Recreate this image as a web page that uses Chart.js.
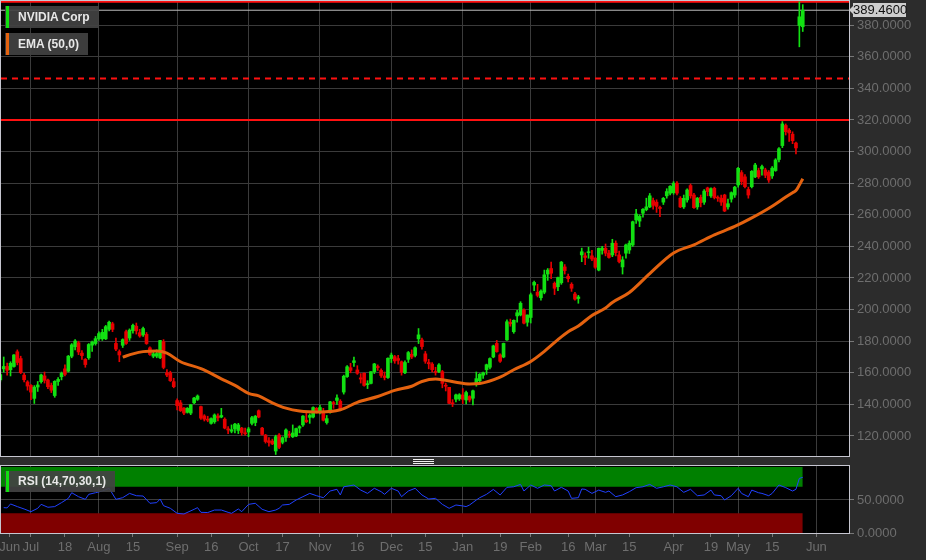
<!DOCTYPE html>
<html>
<head>
<meta charset="utf-8">
<script src="https://cdn.jsdelivr.net/npm/chart.js@4.4.1/dist/chart.umd.min.js"></script>
<style>
  body { margin: 0; background: #2c2c2c; width: 926px; height: 560px; overflow: hidden; position: relative;
         font-family: Arial, "Liberation Sans", sans-serif; }
  canvas { position: absolute; left: 0; }
  #main { top: 0; }
  #rsi { top: 465px; }
  .tag { position: absolute; left: 5px; height: 22px; line-height: 22px; background: rgba(66,66,66,0.92);
         color: #e8e8e8; font-size: 12px; font-weight: bold; padding: 0 9px 0 13px; white-space: nowrap; }
  .tag i { position: absolute; left: 1px; top: 0; width: 3px; height: 100%; }
  #last { position: absolute; left: 853px; width: 53px; height: 14px; line-height: 14px; background: #cdcdcd;
          color: #111; font-size: 13px; text-align: center; }
  #last:before { content: ""; position: absolute; left: -4px; top: 3px; border-style: solid;
                 border-width: 4px 4px 4px 0; border-color: transparent #cdcdcd transparent transparent; }
  #grip { position: absolute; left: 413px; top: 459px; width: 21px; height: 6px;
          background: repeating-linear-gradient(#f0f0f0 0 1px, transparent 1px 2px); }
</style>
</head>
<body>
<canvas id="main" width="926" height="457"></canvas>
<canvas id="rsi" width="926" height="95"></canvas>
<div class="tag" style="top:6px"><i style="background:#10e010"></i>NVIDIA Corp</div>
<div class="tag" style="top:33px"><i style="background:#e4620f"></i>EMA (50,0)</div>
<div class="tag" style="top:471px;height:21px;line-height:21px"><i style="background:#10e010"></i>RSI (14,70,30,1)</div>
<div id="last"></div>
<div id="grip"></div>
<script>
// daily candles, 2022-06-17 .. 2023-05-26, one line per month
const opens = [
  155.5,162.5,164.0,166.0,164.0,173.3,169.0,158.5,154.2,
  152.0,143.8,151.0,154.4,158.0,155.4,152.0,145.6,154.5,157.5,162.5,161.0,170.5,176.5,179.0,172.5,168.5,169.5,177.5,178.5,
  181.5,181.5,181.5,187.5,191.0,178.6,173.4,177.4,186.0,182.0,186.7,189.5,185.4,184.0,184.3,175.8,170.5,170.5,169.5,179.7,160.0,160.0,154.4,
  142.4,141.0,137.7,135.0,134.5,141.0,143.2,138.6,132.7,130.5,128.0,129.0,132.5,133.0,130.6,124.5,123.0,127.5,123.5,125.0,121.5,
  122.5,128.0,128.5,136.0,125.0,120.6,117.0,116.8,110.5,120.6,116.0,119.1,121.0,119.5,120.0,125.0,127.0,130.0,131.8,132.0,137.5,
  138.0,134.5,128.5,135.5,140.5,142.5,142.0,147.8,157.6,161.5,166.5,161.8,156.0,159.7,152.5,153.3,160.7,164.0,161.5,158.0,157.0,
  169.0,167.5,169.0,167.0,160.0,168.5,170.0,171.0,184.0,180.8,172.0,166.5,165.5,160.5,160.8,160.7,151.5,150.8,140.5,143.3,143.5,
  146.0,142.8,145.0,143.9,152.8,155.0,158.5,162.0,163.5,170.0,178.6,171.3,170.0,180.8,191.0,186.0,196.0,196.6,199.7,192.0,
  195.0,215.5,209.0,207.5,211.0,222.5,226.0,216.6,214.5,217.0,227.0,221.0,216.0,209.9,207.0,234.6,234.0,236.0,232.0,
  232.5,225.0,237.5,238.8,235.7,234.6,242.0,234.6,227.0,235.7,237.7,240.9,260.5,256.0,261.0,263.3,265.0,269.0,268.0,264.0,268.0,272.0,273.7,
  274.0,280.0,270.5,265.0,269.4,278.5,272.5,265.0,271.0,268.0,277.0,272.0,276.8,271.0,270.5,272.5,265.0,269.9,272.5,
  278.9,286.7,284.0,276.0,277.8,284.0,288.0,289.0,288.4,287.0,284.6,288.0,295.0,303.8,316.5,313.5,311.0,302.3,385.3,379.0
];
const highs = [
  161.3,170.0,166.2,167.0,171.6,174.5,170.5,159.6,155.0,
  152.6,151.9,154.5,159.2,160.5,156.0,153.5,155.0,157.0,160.5,165.0,171.0,178.5,181.0,180.0,174.0,169.0,178.5,180.0,183.0,
  186.0,187.5,190.0,192.8,192.0,182.0,174.5,181.5,187.0,187.8,190.8,191.5,187.5,189.0,185.5,176.5,174.0,174.5,180.5,181.0,162.0,161.0,156.5,
  143.5,142.5,138.0,138.0,140.0,144.5,146.0,139.0,133.5,132.5,131.5,134.0,134.0,137.5,131.5,126.0,127.0,128.0,128.0,125.5,125.0,
  125.5,132.5,133.0,136.5,125.5,121.0,119.0,118.0,120.5,121.5,119.5,124.5,123.0,127.0,125.0,126.5,133.0,135.0,134.0,138.5,138.0,
  139.5,137.5,133.0,142.0,142.0,146.0,143.0,158.5,164.5,166.0,170.0,164.5,159.5,160.0,155.0,160.8,166.0,165.0,162.5,160.5,169.5,
  172.5,171.0,171.0,167.5,167.5,173.5,174.5,176.5,188.0,182.0,173.5,168.5,166.5,163.5,165.8,161.5,153.5,150.8,143.0,146.5,146.8,
  150.0,148.5,145.5,149.0,160.5,159.5,160.5,165.5,169.5,177.5,180.5,172.0,178.8,193.5,194.0,193.5,199.5,205.0,200.5,196.6,
  210.5,218.0,216.0,212.5,225.0,226.0,230.0,217.5,220.5,230.5,228.5,222.5,217.0,211.0,209.0,238.9,236.0,239.5,237.5,
  233.0,239.0,240.0,241.5,237.5,244.5,243.5,237.0,233.5,241.5,243.5,256.0,263.5,260.0,264.0,270.5,273.5,270.5,269.5,265.5,271.0,276.5,278.5,
  281.0,281.0,271.5,272.5,276.5,279.5,273.5,271.0,272.5,276.0,277.5,277.0,277.5,272.0,272.5,273.0,270.0,274.5,278.0,
  290.0,288.0,285.5,277.5,288.0,292.5,289.5,291.5,289.5,288.0,290.5,295.5,302.5,319.0,317.5,314.5,312.5,306.0,394.8,393.0
];
const lows = [
  154.3,160.4,158.5,158.0,163.5,165.0,159.5,154.2,149.0,
  143.0,140.6,148.2,153.5,153.5,150.0,147.5,144.5,152.0,155.5,158.0,160.5,169.5,174.5,171.5,168.5,163.5,168.5,173.5,177.5,
  180.5,180.5,181.0,186.5,186.0,174.0,167.0,176.0,178.0,180.5,185.0,184.5,182.5,183.0,178.0,171.0,169.5,169.5,169.0,162.5,157.5,154.5,150.5,
  136.5,135.5,133.5,134.5,133.5,140.5,142.5,130.5,129.5,129.0,127.5,128.0,129.5,131.5,124.5,121.5,122.0,122.0,121.5,120.5,120.5,
  119.5,127.0,126.5,131.5,120.5,115.5,113.5,114.5,108.3,112.0,115.0,116.5,119.0,119.0,119.5,122.0,126.0,128.5,128.0,131.5,134.5,
  134.0,129.5,127.5,134.5,137.5,140.0,136.0,146.5,157.0,160.0,164.0,159.0,153.5,151.5,150.0,153.0,159.5,161.5,157.0,155.5,156.5,
  166.5,166.0,165.5,158.5,159.5,166.5,169.0,170.0,178.5,175.0,166.0,162.5,160.5,158.5,160.0,150.5,148.5,140.5,138.6,141.5,142.5,
  140.5,140.3,141.5,139.6,151.5,154.0,156.5,159.0,162.5,169.5,173.0,166.5,169.5,180.5,189.5,185.0,192.0,196.0,191.0,189.5,
  191.5,212.0,208.0,206.0,210.0,218.5,219.5,209.5,212.0,216.0,222.5,217.5,211.5,206.0,204.0,230.3,228.5,232.5,231.0,
  226.0,224.5,235.0,234.0,232.5,233.5,234.0,229.5,222.5,232.5,235.5,240.0,254.5,252.5,258.5,262.5,264.5,263.5,261.5,258.8,266.5,270.5,272.5,
  273.0,272.5,264.5,264.0,268.0,270.5,264.0,263.5,265.0,266.5,272.0,271.0,270.0,268.5,266.0,262.0,263.5,268.0,271.0,
  277.5,279.0,277.0,270.5,277.0,283.5,283.0,285.0,283.5,280.5,283.0,287.5,293.5,302.5,310.5,306.5,305.0,298.5,366.3,376.0
];
const closes = [
  158.8,164.0,161.6,161.9,171.3,166.5,160.1,155.6,151.6,
  147.8,150.9,152.3,158.6,155.2,151.2,149.0,154.6,155.8,159.7,159.0,170.5,177.7,180.1,173.2,170.9,165.2,177.9,179.4,181.6,
  184.8,185.6,189.2,192.0,187.5,175.0,171.3,181.0,178.6,187.0,190.0,186.5,183.3,188.0,178.5,171.6,172.0,172.2,180.4,163.4,158.6,155.0,151.2,
  139.2,136.0,134.5,137.5,139.8,144.0,145.3,131.3,130.6,130.0,131.0,133.3,131.5,132.0,125.0,123.8,124.0,124.5,127.0,122.2,121.4,
  124.5,131.6,132.5,132.0,121.0,116.5,115.9,115.0,119.6,112.8,118.9,123.8,120.5,121.9,124.7,125.9,132.6,129.0,133.0,138.0,135.0,
  135.4,130.0,131.0,141.6,141.0,144.1,136.8,157.8,163.8,163.2,167.6,159.7,156.8,152.0,153.0,160.7,165.6,163.3,158.3,157.0,169.2,
  171.2,170.2,167.9,160.4,166.5,172.8,171.7,175.9,181.5,176.6,167.3,165.7,162.0,160.2,165.0,153.3,152.1,140.7,140.4,146.0,146.1,
  143.2,147.5,142.8,148.6,156.3,159.1,160.0,165.1,169.0,177.0,173.4,167.3,178.6,192.3,191.9,193.2,198.0,204.0,191.4,196.6,
  209.4,217.2,211.0,211.7,222.0,225.0,223.0,213.5,220.3,230.0,224.7,219.6,213.5,206.6,208.0,236.6,233.0,236.6,234.0,
  226.8,238.8,238.9,235.7,233.0,242.0,236.0,230.4,231.5,240.9,242.0,255.6,256.7,259.0,263.5,265.0,272.0,266.0,265.3,264.1,270.4,274.7,278.0,
  280.0,273.7,265.0,270.4,275.7,272.0,264.5,270.5,267.7,275.0,274.7,276.5,270.9,270.5,268.0,262.4,267.0,274.0,277.5,
  289.4,281.0,277.8,272.5,287.5,291.5,284.0,290.5,285.0,282.0,289.5,294.7,301.8,317.5,312.6,311.8,306.9,305.4,379.8,389.46
];
// x is counted in trading days, 0 = 2022-07-01; first candle is 9 sessions earlier
const firstDay = -9;

// EMA(50) (trading day, value)
const emaDays = [27,30,33,37,40,44,50,56,60,64,67,71,75,79,85,91,96,102,107,112,115,119,121,125,129,132,138,142,147,151,155,158,161,165,169,171,176,182,189,195,201,207,212,218,222,224,225,226,227];
const emaVals = [169.9,172.0,173.4,173.8,172.4,167.0,162.6,156.2,152.0,147.0,145.4,141.0,137.6,135.8,135.2,136.6,141.3,145.0,148.9,151.5,154.5,156.0,155.6,154.0,152.9,153.2,157.2,161.9,167.2,173.6,181.0,186.0,189.6,196.3,201.0,204.5,210.8,222.8,235.8,241.0,247.3,252.6,258.0,265.4,271.2,274.0,275.3,278.8,282.8];

// RSI(14)
const rsiDays = [-8,-7,-6,-4,-2,0,2,3,5,7,9,11,12,14,16,17,19,21,23,25,27,29,31,33,35,37,38,39,41,43,45,48,49,50,52,54,56,58,59,61,62,64,66,68,70,72,73,74,76,78,80,82,84,86,88,90,91,92,95,97,99,101,103,104,106,108,109,111,113,115,117,119,121,123,125,127,128,129,131,132,134,136,138,140,142,144,145,147,149,151,153,154,156,158,159,161,162,163,165,167,169,170,172,174,176,178,180,182,184,186,188,190,192,194,196,198,200,201,203,204,206,208,209,211,212,214,215,217,218,220,222,224,225,226,227];
const rsiVals = [38.4,38,44,40,36.4,32.3,37.4,43.4,39,40,46,52.5,61,55,51,58.6,61,63.6,67.7,51,53.5,60,56.5,56,45,46,51.5,41.4,37.4,29.8,28.8,35.9,38.4,31.3,31,34.8,34.8,31.3,29.8,36.4,32.3,43.4,45,35.9,32.3,34.8,37.4,42.4,43.4,50,55,60,56.5,53.5,63.6,66.2,57.6,70,72.7,65,60,67.7,62.6,58.6,67.7,63.6,55,63.6,67.7,57.6,51.5,52.5,43.4,37.4,42.4,41,40,42.4,50,53.5,58.6,66,57.6,69.2,70,73.7,63.6,72.7,67.7,72.7,71.7,63.6,69.2,63.6,52.5,53.5,66.7,66.2,60,65,61.6,63.6,55,57.6,62.6,68.7,70,73.7,67.7,70,72.7,70,61.6,66.2,56.5,57.6,65,57.6,56.5,50,56.5,67.7,60,55,65,61,60,56.5,60,72.7,68.7,63.6,66.2,82.8,84.3];

// reference lines on the price panel
const redLevels = [394.8, 320.0];
const dashedLevels = [346.2];
const rsiHigh = 70, rsiLow = 30;

// axis ticks
const priceTicks = [120,140,160,180,200,220,240,260,280,300,320,340,360,380];
const rsiTicks = [0, 50];
const monthDays = [0,20,43,64,85,106,127,147,166,189,208,231];
const monthLabels = ['Jul','Aug','Sep','Oct','Nov','Dec','Jan','Feb','Mar','Apr','May','Jun'];
const minorDays = [-6.2,10,30,53,74,96,116,138,158,176,200,218];
const minorLabels = ['Jun','18','15','16','17','16','15','19','16','15','19','15'];

const viewStart = -8.8, viewEnd = 240.6;
const upCol = '#12e012', downCol = '#e80000';
const gridCol = '#3b3b3b', textCol = '#6e6e6e', frameCol = '#c6c6d0';
const font = { family: 'Arial, "Liberation Sans", sans-serif', size: 13 };

const days = closes.map((c, i) => firstDay + i);
const lastDay = days[days.length - 1];
const lastClose = closes[closes.length - 1];
// colour follows close vs previous close
const candleCols = closes.map((c, i) => c >= (i ? closes[i - 1] : opens[0]) ? upCol : downCol);

// black plot area and light frame around it
const frame = {
  id: 'frame',
  beforeDraw(chart) {
    const a = chart.chartArea, ctx = chart.ctx;
    ctx.save();
    ctx.fillStyle = '#000';
    ctx.fillRect(a.left, a.top, a.right - a.left, a.bottom - a.top);
    ctx.restore();
  },
  afterDraw(chart) {
    const a = chart.chartArea, ctx = chart.ctx;
    ctx.save();
    ctx.strokeStyle = frameCol;
    ctx.lineWidth = 1;
    ctx.strokeRect(a.left - 0.5, a.top - 0.5, a.right - a.left + 1, a.bottom - a.top + 1);
    ctx.restore();
  }
};

// keep tick labels from pushing the plot area inwards
function noPad(s) { s.paddingTop = 0; s.paddingBottom = 0; s.paddingLeft = 0; s.paddingRight = 0; }

function levelLine(v, color, width, dash) {
  return {
    type: 'line', data: [{ x: viewStart, y: v }, { x: viewEnd, y: v }],
    borderColor: color, borderWidth: width, borderDash: dash || [], pointRadius: 0, order: 5
  };
}

const mainChart = new Chart(document.getElementById('main'), {
  type: 'bar',
  data: {
    datasets: [
      {
        type: 'line', data: emaDays.map((d, i) => ({ x: d, y: emaVals[i] })),
        borderColor: '#e4620f', borderWidth: 3, pointRadius: 0, cubicInterpolationMode: 'monotone', order: 0
      },
      {
        data: days.map((d, i) => ({ x: d, y: [opens[i], closes[i]] })),
        backgroundColor: candleCols, barThickness: 3, minBarLength: 1, grouped: false, order: 1
      },
      {
        data: days.map((d, i) => ({ x: d, y: [lows[i], highs[i]] })),
        backgroundColor: candleCols, barThickness: 1, grouped: false, order: 2
      },
      levelLine(lastClose, '#bdbdbd', 1),
      ...redLevels.map(v => levelLine(v, '#ff1010', 2)),
      ...dashedLevels.map(v => levelLine(v, '#ff1010', 2, [6, 5]))
    ]
  },
  options: {
    responsive: false,
    animation: false,
    layout: { padding: { left: 1, top: 1, right: 0, bottom: 1 } },
    plugins: { legend: { display: false }, tooltip: { enabled: false } },
    scales: {
      x: {
        type: 'linear', min: viewStart, max: viewEnd, offset: false,
        afterBuildTicks: s => { s.ticks = monthDays.map(v => ({ value: v })); },
        afterFit: s => { s.height = 0; noPad(s); },
        grid: { color: gridCol, drawTicks: false, offset: false },
        border: { display: false },
        ticks: { display: false }
      },
      y: {
        position: 'right', min: 107.34, max: 395.3,
        afterBuildTicks: s => { s.ticks = priceTicks.map(v => ({ value: v })); },
        afterFit: s => { s.width = 77; noPad(s); },
        grid: { color: gridCol, tickColor: '#777', tickLength: 5 },
        border: { display: false },
        ticks: { color: textCol, font: font, padding: 3, callback: v => v.toFixed(4) }
      }
    }
  },
  plugins: [frame]
});

const allTicks = monthDays.concat(minorDays);
const allLabels = monthLabels.concat(minorLabels);

new Chart(document.getElementById('rsi'), {
  type: 'line',
  data: {
    datasets: [
      {
        data: rsiDays.map((d, i) => ({ x: d, y: rsiVals[i] })),
        borderColor: '#2040ff', borderWidth: 1, pointRadius: 0, order: 0
      },
      {
        data: [{ x: firstDay, y: 100 }, { x: lastDay, y: 100 }],
        fill: { value: rsiHigh }, backgroundColor: '#008000', borderWidth: 0, pointRadius: 0, order: 1
      },
      {
        data: [{ x: firstDay, y: rsiLow }, { x: lastDay, y: rsiLow }],
        fill: { value: 0 }, backgroundColor: '#800000', borderWidth: 0, pointRadius: 0, order: 1
      }
    ]
  },
  options: {
    responsive: false,
    animation: false,
    layout: { padding: { left: 1, top: 1, right: 0, bottom: 0 } },
    plugins: { legend: { display: false }, tooltip: { enabled: false } },
    scales: {
      x: {
        type: 'linear', min: viewStart, max: viewEnd, z: 1,
        afterBuildTicks: s => { s.ticks = allTicks.map(v => ({ value: v })); },
        afterFit: s => { s.height = 27; noPad(s); },
        grid: {
          color: c => monthDays.includes(c.tick && c.tick.value) ? 'rgba(150,150,150,0.4)' : 'rgba(0,0,0,0)',
          tickColor: '#777', tickLength: 4
        },
        border: { display: false },
        ticks: {
          color: textCol, font: font, padding: 3, autoSkip: false, maxRotation: 0,
          callback: v => allLabels[allTicks.indexOf(v)]
        }
      },
      y: {
        position: 'right', min: 0, max: 101.5, z: 1,
        afterBuildTicks: s => { s.ticks = rsiTicks.map(v => ({ value: v })); },
        afterFit: s => { s.width = 77; noPad(s); },
        grid: { color: 'rgba(150,150,150,0.4)', tickColor: '#777', tickLength: 5 },
        border: { display: false },
        ticks: { color: textCol, font: font, padding: 3, callback: v => v.toFixed(4) }
      }
    }
  },
  plugins: [frame]
});

// last price tag sits on the price axis
const tag = document.getElementById('last');
tag.textContent = lastClose.toFixed(4);
tag.style.top = (mainChart.scales.y.getPixelForValue(lastClose) - 7) + 'px';
</script>
</body>
</html>
